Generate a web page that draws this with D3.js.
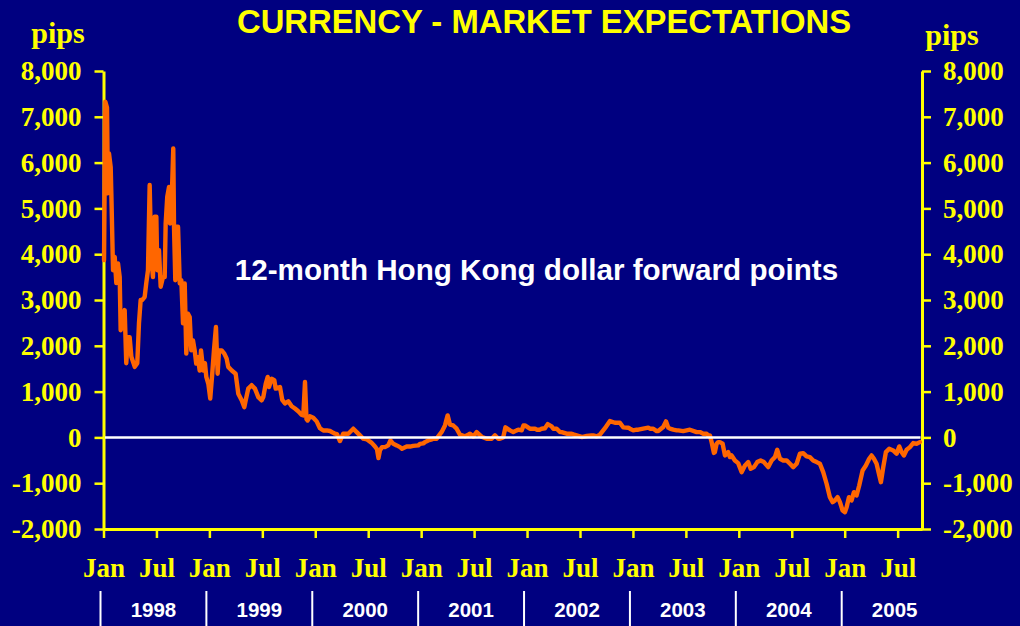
<!DOCTYPE html>
<html>
<head>
<meta charset="utf-8">
<script src="https://cdn.jsdelivr.net/npm/d3@7"></script>
<style>
  html, body { margin: 0; padding: 0; background: #000080; }
  svg { display: block; }
</style>
</head>
<body>
<svg id="chart" width="1020" height="626"></svg>
<script>
// ---- data (decimal years, forward points in pips) ----
const dates = [
  1998.005,1998.017,1998.033,1998.042,1998.052,1998.068,1998.074,1998.090,1998.106,1998.121,
  1998.137,1998.153,1998.162,1998.184,1998.200,1998.215,1998.231,1998.247,1998.263,1998.295,
  1998.319,1998.335,1998.351,1998.366,1998.389,1998.404,1998.420,1998.436,1998.451,1998.467,
  1998.483,1998.499,1998.508,1998.524,1998.540,1998.562,1998.578,1998.587,1998.602,1998.619,
  1998.628,1998.647,1998.659,1998.666,1998.678,1998.691,1998.704,1998.720,1998.735,1998.751,
  1998.767,1998.782,1998.798,1998.814,1998.829,1998.845,1998.861,1998.876,1998.892,1998.908,
  1998.921,1998.942,1998.958,1998.971,1998.990,
  1999.008,1999.027,1999.043,1999.062,1999.078,1999.091,1999.116,1999.141,1999.163,1999.178,
  1999.211,1999.248,1999.273,1999.305,1999.330,1999.343,1999.367,1999.399,1999.430,1999.462,
  1999.494,1999.509,1999.532,1999.551,1999.563,1999.588,1999.613,1999.626,1999.667,1999.688,
  1999.714,1999.745,1999.777,1999.808,1999.839,1999.872,1999.887,1999.903,1999.917,1999.928,
  1999.950,1999.981,
  2000.013,2000.044,2000.076,2000.108,2000.139,2000.170,2000.186,2000.205,2000.233,2000.264,
  2000.312,2000.359,2000.391,2000.422,2000.453,2000.485,2000.533,2000.564,2000.583,2000.597,
  2000.611,2000.630,2000.658,2000.689,2000.710,2000.737,2000.769,2000.800,2000.819,2000.863,
  2000.894,2000.925,2000.973,2000.989,
  2001.020,2001.036,2001.067,2001.093,2001.114,2001.146,2001.162,2001.194,2001.225,2001.250,
  2001.272,2001.303,2001.335,2001.366,2001.414,2001.445,2001.461,2001.492,2001.524,2001.571,
  2001.619,2001.666,2001.697,2001.728,2001.744,2001.775,2001.796,2001.839,2001.870,2001.902,
  2001.917,2001.949,2001.966,2001.980,
  2002.027,2002.075,2002.091,2002.122,2002.138,2002.169,2002.195,2002.232,2002.248,2002.280,
  2002.311,2002.327,2002.374,2002.421,2002.437,2002.468,2002.500,2002.516,2002.563,2002.610,
  2002.625,2002.657,2002.688,2002.736,2002.783,2002.830,2002.877,2002.908,2002.956,2002.972,
  2003.003,2003.035,2003.050,2003.097,2003.145,2003.161,2003.192,2003.224,2003.239,2003.286,
  2003.312,2003.334,2003.350,2003.381,2003.413,2003.428,2003.475,2003.538,2003.602,2003.633,
  2003.664,2003.696,2003.711,2003.727,2003.743,2003.765,2003.774,2003.790,2003.805,2003.821,
  2003.847,2003.869,2003.900,2003.916,2003.932,2003.963,2003.994,
  2004.027,2004.058,2004.089,2004.112,2004.143,2004.174,2004.206,2004.237,2004.278,2004.310,
  2004.341,2004.363,2004.388,2004.419,2004.451,2004.483,2004.514,2004.546,2004.577,2004.608,
  2004.640,2004.671,2004.702,2004.735,2004.766,2004.797,2004.829,2004.860,2004.886,2004.908,
  2004.933,2004.955,2004.980,
  2005.002,2005.018,2005.040,2005.065,2005.087,2005.112,2005.137,2005.169,2005.200,2005.231,
  2005.254,2005.276,2005.301,2005.323,2005.342,2005.364,2005.389,2005.420,2005.458,2005.490,
  2005.515,2005.537,2005.559,2005.585,2005.616,2005.647,2005.679,2005.710
];
const pips = [
  3870,7330,7200,5330,6200,5900,5330,3650,3940,3370,
  3800,3500,2340,2490,2780,1620,2190,2190,1760,1540,
  1620,2490,3000,3000,3070,3370,3650,5510,3940,3500,
  4820,4820,3650,4090,3290,3500,3500,4670,5250,5470,
  4670,5400,6310,4600,3430,4600,4600,3360,3430,2490,
  3360,1830,2700,2630,1900,2120,1900,1610,1750,1460,
  1900,1460,1620,1320,1170,
  850,1390,1900,2410,1390,1900,1900,1830,1720,1540,
  1460,1390,955,810,660,810,1065,1140,1065,880,
  810,880,1170,1320,1100,1280,1250,1065,1100,820,
  740,790,680,630,570,490,480,1210,400,370,
  460,430,
  350,200,150,153,140,100,81,70,-80,80,
  81,190,116,44,-28,-40,-120,-200,-260,-450,
  -284,-212,-212,-175,-66,-140,-175,-212,-247,-200,
  -200,-185,-175,-140,
  -130,-103,-66,-50,-28,-30,22,120,262,480,
  280,260,190,60,25,59,81,20,116,15,
  -28,-28,44,-28,-28,0,220,153,116,153,
  168,153,262,262,
  190,190,168,168,190,200,290,240,190,190,
  116,116,81,81,66,44,22,7,30,44,
  44,22,60,200,357,320,320,220,212,190,
  153,168,168,190,212,190,190,138,138,226,
  350,212,190,168,153,153,138,168,116,116,
  81,81,44,44,-100,-340,-321,-138,-103,-103,
  -138,-394,-321,-430,-394,-503,-561,
  -758,-612,-539,-685,-649,-539,-503,-539,-649,-503,
  -430,-270,-466,-503,-503,-576,-649,-576,-357,-343,
  -415,-430,-503,-539,-576,-758,-1012,-1305,-1414,-1377,
  -1305,-1414,-1596,
  -1633,-1524,-1305,-1377,-1196,-1268,-1049,-721,-612,-466,
  -394,-466,-576,-794,-977,-649,-321,-247,-284,-357,
  -197,-321,-394,-270,-212,-124,-138,-103
];
const yTicks = [-2000,-1000,0,1000,2000,3000,4000,5000,6000,7000,8000];
const xTicks = [1998,1998.5,1999,1999.5,2000,2000.5,2001,2001.5,2002,2002.5,2003,2003.5,2004,2004.5,2005,2005.5];
const xTickLabels = ["Jan","Jul","Jan","Jul","Jan","Jul","Jan","Jul","Jan","Jul","Jan","Jul","Jan","Jul","Jan","Jul"];
const yearLabels = [1998,1999,2000,2001,2002,2003,2004,2005];

const titleText = "CURRENCY - MARKET EXPECTATIONS";
const subtitleText = "12-month Hong Kong dollar forward points";
const unitText = "pips";

// ---- layout ----
const YELLOW = "#FFFF00";
const ORANGE = "#FF6600";
const SERIF = "'Liberation Serif','Times New Roman',serif";
const SANS = "'Liberation Sans',Arial,sans-serif";

const svg = d3.select("#chart");
svg.append("rect").attr("width",1020).attr("height",626).attr("fill","#000080");

const plotL = 103.5, plotR = 922, plotT = 71, plotB = 529;
const x = d3.scaleLinear().domain([1998, 2005.73]).range([plotL, plotR]);
const y = d3.scaleLinear().domain([-2000, 8000]).range([plotB, plotT]);

const fmt = d => d3.format(",")(d).replace("\u2212","-");

function styleAxis(g){
  g.select(".domain").attr("stroke",YELLOW).attr("stroke-width",3);
  g.selectAll(".tick line").attr("stroke",YELLOW).attr("stroke-width",2.5);
  g.selectAll(".tick text").attr("fill",YELLOW)
    .style("font-family",SERIF).style("font-weight","bold").style("font-size","27px");
}

// left axis
const gL = svg.append("g").attr("transform",`translate(${plotL},0)`)
  .call(d3.axisLeft(y).tickValues(yTicks).tickSize(9).tickSizeOuter(0).tickPadding(13).tickFormat(fmt));
styleAxis(gL);
// right axis
const gR = svg.append("g").attr("transform",`translate(${plotR},0)`)
  .call(d3.axisRight(y).tickValues(yTicks).tickSize(9).tickSizeOuter(0).tickPadding(12).tickFormat(fmt));
styleAxis(gR);
gR.selectAll(".tick text").attr("text-anchor","start");
// bottom axis
const gB = svg.append("g").attr("transform",`translate(0,${plotB})`)
  .call(d3.axisBottom(x).tickValues(xTicks).tickSize(9).tickSizeOuter(0).tickPadding(20)
    .tickFormat((d,i)=>xTickLabels[i]));
styleAxis(gB);

// data line
const pts = dates.map((d,i)=>[d,pips[i]]);
const line = d3.line().x(d=>x(d[0])).y(d=>y(d[1]));
svg.append("path").datum(pts).attr("d",line)
  .attr("fill","none").attr("stroke",ORANGE).attr("stroke-width",4.4)
  .attr("stroke-linejoin","round").attr("stroke-linecap","round");

// zero line
svg.append("line").attr("x1",plotL+1.5).attr("x2",plotR-1.5)
  .attr("y1",y(0)).attr("y2",y(0)).attr("stroke","#FFFFFF").attr("stroke-width",2.5);

// titles
svg.append("text").attr("x",544).attr("y",33).attr("text-anchor","middle")
  .attr("fill",YELLOW).style("font-family",SANS).style("font-weight","bold").style("font-size","32.8px")
  .text(titleText);
svg.append("text").attr("x",536.5).attr("y",280).attr("text-anchor","middle")
  .attr("fill","#FFFFFF").style("font-family",SANS).style("font-weight","bold").style("font-size","29.6px")
  .text(subtitleText);
svg.append("text").attr("x",58).attr("y",43).attr("text-anchor","middle")
  .attr("fill",YELLOW).style("font-family",SERIF).style("font-weight","bold").style("font-size","30px")
  .text(unitText);
svg.append("text").attr("x",952).attr("y",45).attr("text-anchor","middle")
  .attr("fill",YELLOW).style("font-family",SERIF).style("font-weight","bold").style("font-size","30px")
  .text(unitText);

// year band labels with separators
const sepShift = -3;
const yearG = svg.append("g");
yearG.selectAll("line").data(yearLabels).join("line")
  .attr("x1",d=>x(d)+sepShift).attr("x2",d=>x(d)+sepShift)
  .attr("y1",591).attr("y2",626).attr("stroke","#FFFFFF").attr("stroke-width",2);
yearG.selectAll("text").data(yearLabels).join("text")
  .attr("x",d=>x(d+0.5)+sepShift).attr("y",617).attr("text-anchor","middle")
  .attr("fill","#FFFFFF").style("font-family",SANS).style("font-weight","bold").style("font-size","20.5px")
  .text(d=>d);
</script>
</body>
</html>
